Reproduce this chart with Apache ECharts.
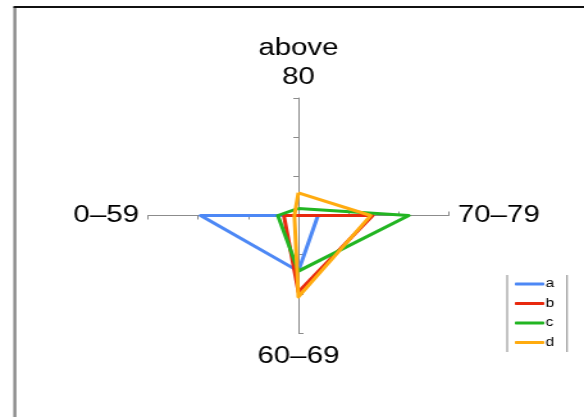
<!DOCTYPE html>
<html>
<head>
<meta charset="utf-8">
<script src="https://cdn.jsdelivr.net/npm/echarts@6/dist/echarts.min.js"></script>
<style>
html,body{margin:0;padding:0;background:#fff;overflow:hidden;width:584px;height:417px;}
#chart{width:456px;height:417px;transform:scaleX(1.2807);transform-origin:0 0;}
</style>
</head>
<body>
<div id="chart"></div>
<script>
// Indicator order (ECharts places them counter-clockwise from the top)
var categories = ['above 80', '0\u201359', '60\u201369', '70\u201379'];
var seriesNames = ['a', 'b', 'c', 'd'];
var valuesA = [0, 1.95, 1.42, 0.39];
var valuesB = [0, 0.29, 1.95, 1.48];
var valuesC = [0.18, 0.41, 1.42, 2.2];
var valuesD = [0.58, 0.08, 2.08, 1.44];
var axisMax = 3;
var colors = ['#4d88f5', '#e8290e', '#22b522', '#ffab0f'];

var allValues = [valuesA, valuesB, valuesC, valuesD];
var chart = echarts.init(document.getElementById('chart'));
var font = '"Liberation Sans", Arial, sans-serif';
var option = {
  animation: false,
  color: colors,
  textStyle: {fontFamily: font},
  radar: {
    center: [233, 215.5],
    radius: 117.5,
    startAngle: 90,
    shape: 'polygon',
    splitNumber: 3,
    indicator: categories.map(function (c) { return {name: c, min: 0, max: axisMax}; }),
    axisName: {
      color: '#000',
      fontSize: 23,
      lineHeight: 29,
      fontFamily: font,
      formatter: function (n) {
        if (n.indexOf(' ') >= 0) return '{t|' + n.replace(' ', '}\n{t|') + '}';
        if (n === categories[2]) return '{b|' + n + '}';
        return n;
      },
      rich: {
        t: {fontSize: 23, lineHeight: 29, color: '#000', fontFamily: font, padding: [2, 0, 0, 0]},
        b: {fontSize: 23, lineHeight: 29, color: '#000', fontFamily: font, padding: [5, 0, 0, 0]}
      }
    },
    nameGap: 7,
    axisLine: {show: true, lineStyle: {color: '#8c8c8c', width: 1}},
    axisTick: {show: true, length: 4, lineStyle: {color: '#8c8c8c', width: 1}},
    splitLine: {show: false},
    splitArea: {show: false},
    axisLabel: {show: false}
  },
  legend: {
    orient: 'vertical',
    left: 402,
    top: 276.5,
    padding: 0,
    itemWidth: 23,
    itemHeight: 3,
    itemGap: 4.5,
    icon: 'roundRect',
    textStyle: {fontSize: 12, color: '#000', lineHeight: 10, padding: [5, 0, 0, -4]},
    data: seriesNames
  },
  graphic: [
    {type: 'line', shape: {x1: 11.6, y1: 7, x2: 11.6, y2: 417}, style: {stroke: '#8a8a8a', lineWidth: 2.4}},
    {type: 'line', shape: {x1: 10.5, y1: 7, x2: 456, y2: 7}, style: {stroke: '#111', lineWidth: 2}},
    {type: 'line', shape: {x1: 396, y1: 275, x2: 396, y2: 352}, style: {stroke: '#9a9a9a', lineWidth: 1.2}},
    {type: 'line', shape: {x1: 442.7, y1: 275, x2: 442.7, y2: 352}, style: {stroke: '#9a9a9a', lineWidth: 1.2}}
  ],
  series: [{
    type: 'radar',
    symbol: 'none',
    lineStyle: {width: 3},
    data: seriesNames.map(function (n, i) {
      return {name: n, value: allValues[i], lineStyle: {width: 3, color: colors[i]}, itemStyle: {color: colors[i]}};
    })
  }]
};
chart.setOption(option);
</script>
</body>
</html>
